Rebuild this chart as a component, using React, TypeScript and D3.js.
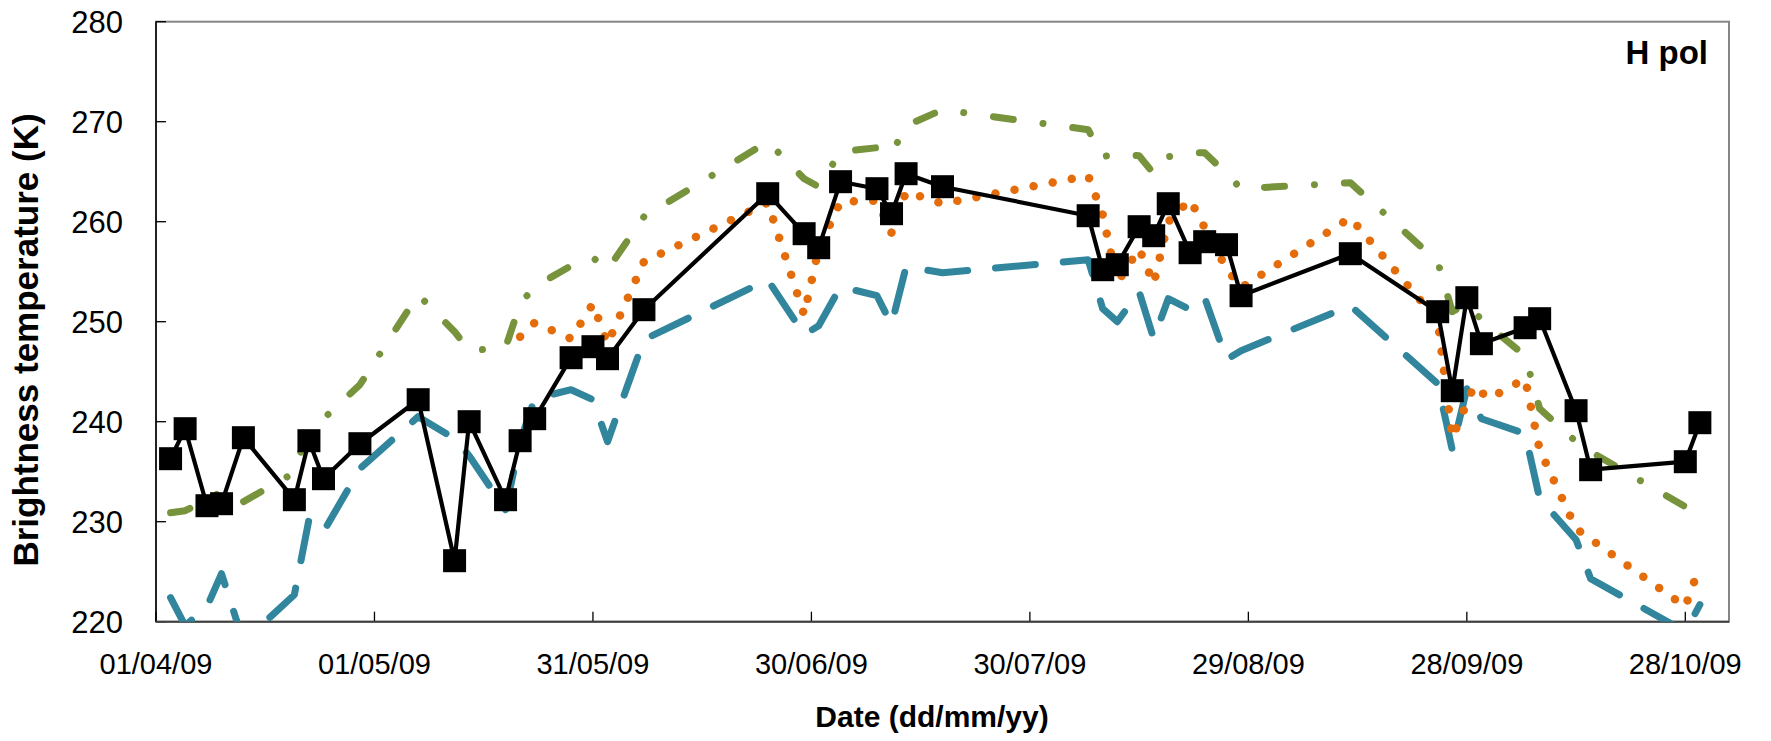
import React from "react";
import * as d3 from "d3";

// observation dates (dd/mm/yy), shared by the observed and two of the simulated series
const obsDates = [
  "03/04/09", "05/04/09", "08/04/09", "10/04/09", "13/04/09", "20/04/09", "22/04/09", "24/04/09",
  "29/04/09", "07/05/09", "12/05/09", "14/05/09", "19/05/09", "21/05/09", "23/05/09", "28/05/09",
  "31/05/09", "02/06/09", "07/06/09", "24/06/09", "29/06/09", "01/07/09", "04/07/09", "09/07/09",
  "11/07/09", "13/07/09", "18/07/09", "07/08/09", "09/08/09", "11/08/09", "14/08/09", "16/08/09",
  "18/08/09", "21/08/09", "23/08/09", "26/08/09", "28/08/09", "12/09/09", "24/09/09", "26/09/09",
  "28/09/09", "30/09/09", "06/10/09", "08/10/09", "13/10/09", "15/10/09", "28/10/09", "30/10/09",
];

// observed H pol brightness temperature (K), black squares
const observedTb = [
  236.3, 239.3, 231.6, 231.8, 238.4, 232.2, 238.1, 234.3,
  237.8, 242.2, 226.1, 240.0, 232.2, 238.1, 240.3, 246.4,
  247.5, 246.3, 251.2, 262.8, 258.8, 257.4, 264.0, 263.3,
  260.8, 264.8, 263.5, 260.6, 255.2, 255.7, 259.5, 258.6,
  261.8, 256.9, 258.0, 257.7, 252.6, 256.8, 251.0, 243.1,
  252.4, 247.8, 249.4, 250.3, 241.1, 235.2, 236.0, 239.9,
];

// simulated, long dash (teal)
const simDashTb = [
  222.4, 219.6, 221.5, 224.8, 218.0, 222.7, 230.2, 229.0,
  235.3, 240.5, 238.3, 236.6, 231.2, 238.0, 242.3, 243.2,
  242.2, 238.0, 248.2, 254.2, 248.7, 249.6, 253.5, 252.6,
  249.7, 255.5, 254.9, 256.2, 251.3, 250.0, 253.0, 248.3,
  252.3, 251.2, 252.4, 246.2, 247.1, 251.6, 243.8, 237.2,
  243.3, 240.3, 238.8, 232.3, 228.2, 224.3, 219.0, 221.7,
];

// simulated, long dash dot (olive)
const simDashDotTb = [
  230.9, 231.1, 232.2, 233.0, 232.0, 234.9, 239.6, 240.3,
  243.7, 252.7, 249.0, 247.1, 247.4, 251.8, 253.5, 255.6,
  256.4, 255.2, 260.5, 268.0, 264.3, 263.5, 267.0, 267.4,
  266.8, 269.6, 271.2, 269.2, 266.5, 266.8, 266.6, 264.8,
  266.5, 266.9, 266.9, 264.8, 263.3, 263.9, 256.0, 251.0,
  251.8, 250.2, 246.6, 241.3, 238.0, 237.0, 231.5, 231.4,
];

// simulated, round dot (orange) - starts later
const dotDates = [
  "21/05/09", "23/05/09", "28/05/09", "31/05/09", "02/06/09", "07/06/09", "24/06/09", "29/06/09",
  "01/07/09", "04/07/09", "09/07/09", "11/07/09", "13/07/09", "18/07/09", "07/08/09", "09/08/09",
  "11/08/09", "14/08/09", "16/08/09", "18/08/09", "21/08/09", "23/08/09", "26/08/09", "28/08/09",
  "12/09/09", "24/09/09", "26/09/09", "29/09/09", "01/10/09", "06/10/09", "08/10/09", "13/10/09",
  "28/10/09", "30/10/09",
];
const simDotTb = [
  248.5, 249.9, 248.3, 251.8, 247.8, 256.0, 261.9, 250.7,
  257.3, 262.0, 262.1, 258.9, 263.0, 261.8, 264.6, 260.7,
  253.9, 257.3, 253.8, 260.0, 262.2, 259.4, 255.3, 253.4,
  260.4, 250.1, 238.4, 243.6, 242.3, 244.3, 237.2, 229.3,
  221.5, 225.6,
];

const xTickLabels = ["01/04/09", "01/05/09", "31/05/09", "30/06/09", "30/07/09", "29/08/09", "28/09/09", "28/10/09"];
const xEnd = "03/11/09";
const yTicks = [220, 230, 240, 250, 260, 270, 280];

const W = 1771;
const H = 741;
const left = 156;
const right = 1729;
const top = 21.7;
const bottom = 621.7;
const font = "'Liberation Sans', Arial, sans-serif";

const parse = d3.utcParse("%d/%m/%y");

type Pt = { date: Date; v: number };

export default function App() {
  const x = d3
    .scaleUtc()
    .domain([parse(xTickLabels[0]) as Date, parse(xEnd) as Date])
    .range([left, right]);
  const y = d3.scaleLinear().domain([220, 280]).range([bottom, top]);

  const toPts = (dates: string[], vals: number[]): Pt[] =>
    dates.map((d, i) => ({ date: parse(d) as Date, v: vals[i] }));

  const obs = toPts(obsDates, observedTb);
  const dash = toPts(obsDates, simDashTb);
  const dashDot = toPts(obsDates, simDashDotTb);
  const dots = toPts(dotDates, simDotTb);

  const line = d3
    .line<Pt>()
    .x((d) => x(d.date))
    .y((d) => y(d.v));

  const sq = 23;

  return (
    <svg
      width={W}
      height={H}
      style={{ position: "absolute", left: 0, top: 0, background: "#fff" }}
      fontFamily={font}
    >
      <defs>
        <clipPath id="plot">
          <rect x={left} y={top} width={right - left} height={bottom - top} />
        </clipPath>
      </defs>

      {/* plot area border */}
      <rect
        x={left}
        y={top}
        width={right - left}
        height={bottom - top}
        fill="none"
        stroke="#868686"
        strokeWidth={2}
      />

      {/* y ticks + labels */}
      {yTicks.map((t) => (
        <g key={t}>
          <line x1={left} x2={left + 10} y1={y(t)} y2={y(t)} stroke="#000" strokeWidth={1.3} />
          <text x={123} y={y(t)} dy="0.36em" textAnchor="end" fontSize={31} fill="#000">
            {t}
          </text>
        </g>
      ))}

      {/* x ticks + labels */}
      {xTickLabels.map((t) => {
        const px = x(parse(t) as Date);
        return (
          <g key={t}>
            <line x1={px} x2={px} y1={bottom} y2={bottom - 10} stroke="#000" strokeWidth={1.3} />
            <text x={px} y={674} textAnchor="middle" fontSize={29} fill="#000">
              {t}
            </text>
          </g>
        );
      })}

      {/* axes */}
      <line x1={left} x2={left} y1={top} y2={bottom} stroke="#000" strokeWidth={1.5} />
      <line x1={left} x2={right} y1={bottom} y2={bottom} stroke="#404040" strokeWidth={2} />

      <g clipPath="url(#plot)" fill="none" strokeLinecap="round" strokeLinejoin="round">
        <path d={line(dash) || ""} stroke="#31859C" strokeWidth={7} strokeDasharray="40 28" />
        <path d={line(dashDot) || ""} stroke="#77933C" strokeWidth={7} strokeDasharray="20 30 0.01 30" />
        <path d={line(dots) || ""} stroke="#E46C0A" strokeWidth={8.5} strokeDasharray="0.01 19.4" />
        <path d={line(obs) || ""} stroke="#000" strokeWidth={4.2} strokeLinecap="butt" />
      </g>

      {obs.map((d, i) => (
        <rect key={i} x={x(d.date) - sq / 2} y={y(d.v) - sq / 2} width={sq} height={sq} fill="#000" />
      ))}

      <text x={1708} y={64} textAnchor="end" fontSize={33} fontWeight="bold" fill="#000">
        H pol
      </text>

      <text x={932} y={727} textAnchor="middle" fontSize={30} fontWeight="bold" fill="#000">
        Date (dd/mm/yy)
      </text>

      <text
        transform={`translate(38, 340) rotate(-90)`}
        textAnchor="middle"
        fontSize={35}
        fontWeight="bold"
        fill="#000"
      >
        Brightness temperature (K)
      </text>
    </svg>
  );
}
